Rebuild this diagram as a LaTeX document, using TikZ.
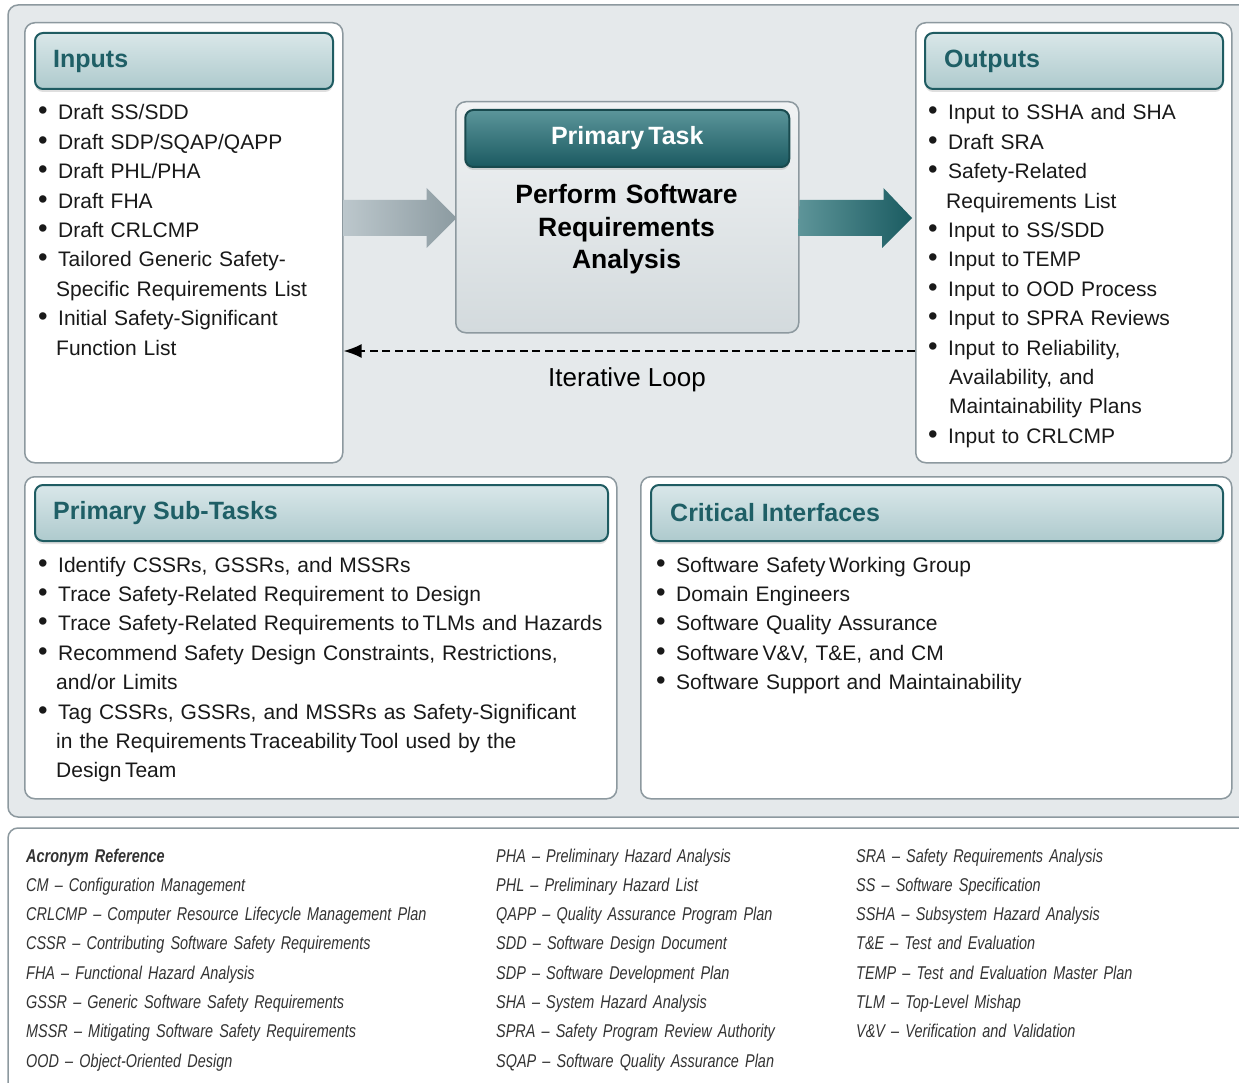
\documentclass[tikz,border=0pt]{standalone}
\usepackage{fontspec}
\setmainfont{Liberation Sans}
\newfontfamily\acrofont[FakeStretch=0.78,Ligatures=TeX]{Liberation Sans}
\usetikzlibrary{arrows.meta,positioning,calc,shadows}
\definecolor{panelgray}{HTML}{E5E9EB}
\definecolor{boxedge}{HTML}{8D999F}
\definecolor{tealdark}{HTML}{1F5C62}
\definecolor{tealtext}{HTML}{1F5F66}
\definecolor{hdrtop}{HTML}{D9E7E9}
\definecolor{hdrbot}{HTML}{AECACD}
\definecolor{tasktop}{HTML}{F1F3F4}
\definecolor{taskbot}{HTML}{D3DADD}
\definecolor{thtop}{HTML}{5B959A}
\definecolor{thbot}{HTML}{1B5A61}
\definecolor{arrgrayL}{HTML}{BCC7CC}
\definecolor{arrgrayR}{HTML}{8C9BA1}
\definecolor{arrtealL}{HTML}{5E9599}
\definecolor{arrtealR}{HTML}{1A5B61}
\definecolor{acrotext}{HTML}{333333}
\newcommand\bl{\makebox[21pt][l]{\hspace*{1pt}\scalebox{1.3}{\textbullet}}}
\newcommand\ind{\hspace*{19pt}}

\begin{document}
\begin{tikzpicture}[x=1pt,y=-1pt,>=Latex]
  \tikzstyle{panel}=[draw=boxedge,line width=1.5pt,fill=white,rounded corners=10pt,anchor=north west,inner sep=0pt]
  \tikzstyle{header}=[draw=tealdark,line width=2pt,rounded corners=8pt,top color=hdrtop,bottom color=hdrbot,minimum height=56pt,inner sep=0pt,drop shadow={opacity=0.25,shadow xshift=0pt,shadow yshift=-3pt}]
  \tikzstyle{htext}=[font=\bfseries\fontsize{25}{30}\selectfont,text=tealtext,inner sep=0pt]
  \tikzstyle{list}=[font=\fontsize{21}{29.4}\selectfont,text width=570pt,align=left,anchor=base west,inner sep=0pt,text=black!90]
  \tikzstyle{acro}=[font=\acrofont\itshape\fontsize{18.5}{29.3}\selectfont,text width=460pt,align=left,anchor=base west,inner sep=0pt,text=acrotext]
  \tikzstyle{loopline}=[line width=2pt,dash pattern=on 8pt off 4.5pt,-{Latex[length=18pt,width=14pt]}]

  \useasboundingbox (0,0) rectangle (1239,1083);
  \clip (0,0) rectangle (1239,1083);
  \draw[draw=boxedge,line width=1.5pt,fill=panelgray,rounded corners=10pt] (8,5) rectangle (1270,817);
  \draw[draw=boxedge,line width=1.5pt,fill=white,rounded corners=10pt] (8,828) rectangle (1270,1110);

  % boxes
  \node[panel,minimum width=318pt,minimum height=440pt] (inp) at (24,22) {};
  \node[panel,minimum width=316pt,minimum height=440pt] (out) at (915,22) {};
  \node[panel,minimum width=592pt,minimum height=322pt] (sub) at (24,476) {};
  \node[panel,minimum width=591pt,minimum height=322pt] (crit) at (640,476) {};

  % fat arrows
  \shade[left color=arrgrayL,right color=arrgrayR] ($(inp.east|-0,218)+(0,-18)$) -- ++(83,0) -- ++(0,-12) -- ($(inp.east|-0,218)+(113,0)$) -- ++(-30,30) -- ++(0,-12) -- ++(-83,0) -- cycle;
  \node[panel,minimum width=343pt,minimum height=231pt,top color=tasktop,bottom color=taskbot] (task) at (455,101) {};
  \shade[left color=arrtealL,right color=arrtealR] ($(task.east|-0,218)+(0,-18)$) -- ++(84,0) -- ++(0,-12) -- ($(out.west|-0,218)+(-3,0)$) -- ++(-30,30) -- ++(0,-12) -- ++(-84,0) -- cycle;

  % headers
  \node[header,minimum width=298pt,below right=10pt and 10pt of inp.north west] (inph) {};
  \node[htext,right=19pt of inph.west] {Inputs};
  \node[header,minimum width=298pt,below right=10pt and 9pt of out.north west] (outh) {};
  \node[htext,right=20pt of outh.west] {Outputs};
  \node[header,minimum width=573pt,below right=8pt and 10pt of sub.north west] (subh) {};
  \node[htext,right=19pt of subh.west] {Primary Sub-Tasks};
  \node[header,minimum width=572pt,below right=8pt and 10pt of crit.north west] (crith) {};
  \node[htext,right=20pt of crith.west] {Critical Interfaces};
  \node[header,minimum width=324pt,minimum height=57pt,top color=thtop,bottom color=thbot,draw=tealdark!80!black,below=8pt of task.north] (taskh) {};
  \node[htext,text=white] at (taskh.center) {Primary\,Task};
  \node[font=\bfseries\fontsize{26.5}{32.5}\selectfont,text width=330pt,align=center,anchor=base,inner sep=0pt] (taskt) at (626.5,204) {Perform Software\\Requirements\\Analysis};

  % lists
  \node[list] (inpl) at (37,120) {\bl Draft SS/SDD\\
    \bl Draft SDP/SQAP/QAPP\\
    \bl Draft PHL/PHA\\
    \bl Draft FHA\\
    \bl Draft CRLCMP\\
    \bl Tailored Generic Safety-\\
    \ind Specific Requirements List\\
    \bl Initial Safety-Significant\\
    \ind Function List};
  \node[list] (outl) at (927,120) {\bl Input to SSHA and SHA\\
    \bl Draft SRA\\
    \bl Safety-Related\\
    \ind Requirements List\\
    \bl Input to SS/SDD\\
    \bl Input to\,TEMP\\
    \bl Input to OOD Process\\
    \bl Input to SPRA Reviews\\
    \bl Input to Reliability,\\
    \ind\hspace*{3pt}Availability, and\\
    \ind\hspace*{3pt}Maintainability Plans\\
    \bl Input to CRLCMP};
  \node[list] (subl) at (37,572) {\bl Identify CSSRs, GSSRs, and MSSRs\\
    \bl Trace Safety-Related Requirement to Design\\
    \bl Trace Safety-Related Requirements to\,TLMs and Hazards\\
    \bl Recommend Safety Design Constraints, Restrictions,\\
    \ind and/or Limits\\
    \bl Tag CSSRs, GSSRs, and MSSRs as Safety-Significant\\
    \ind in the Requirements\,Traceability\,Tool used by the\\
    \ind Design\,Team};
  \node[list] (critl) at (655,572) {\bl Software Safety\,Working Group\\
    \bl Domain Engineers\\
    \bl Software Quality Assurance\\
    \bl Software\,V\&V, T\&E, and CM\\
    \bl Software Support and Maintainability};

  % iterative loop
  \coordinate (lp) at (627,351);
  \draw[loopline] (out.west|-lp) -- (inp.east|-lp);
  \node[font=\fontsize{26}{30}\selectfont,anchor=base,inner sep=0pt] (loop) at ([yshift=-35pt]lp) {Iterative Loop};

  % acronyms
  \node[acro] (acr1) at (26,862) {\textbf{Acronym Reference}\\
    CM -- Configuration Management\\
    CRLCMP -- Computer Resource Lifecycle Management Plan\\
    CSSR -- Contributing Software Safety Requirements\\
    FHA -- Functional Hazard Analysis\\
    GSSR -- Generic Software Safety Requirements\\
    MSSR -- Mitigating Software Safety Requirements\\
    OOD -- Object-Oriented Design};
  \node[acro] (acr2) at (496,862) {PHA -- Preliminary Hazard Analysis\\
    PHL -- Preliminary Hazard List\\
    QAPP -- Quality Assurance Program Plan\\
    SDD -- Software Design Document\\
    SDP -- Software Development Plan\\
    SHA -- System Hazard Analysis\\
    SPRA -- Safety Program Review Authority\\
    SQAP -- Software Quality Assurance Plan};
  \node[acro] (acr3) at (856,862) {SRA -- Safety Requirements Analysis\\
    SS -- Software Specification\\
    SSHA -- Subsystem Hazard Analysis\\
    T\&E -- Test and Evaluation\\
    TEMP -- Test and Evaluation Master Plan\\
    TLM -- Top-Level Mishap\\
    V\&V -- Verification and Validation};
\end{tikzpicture}
\end{document}
